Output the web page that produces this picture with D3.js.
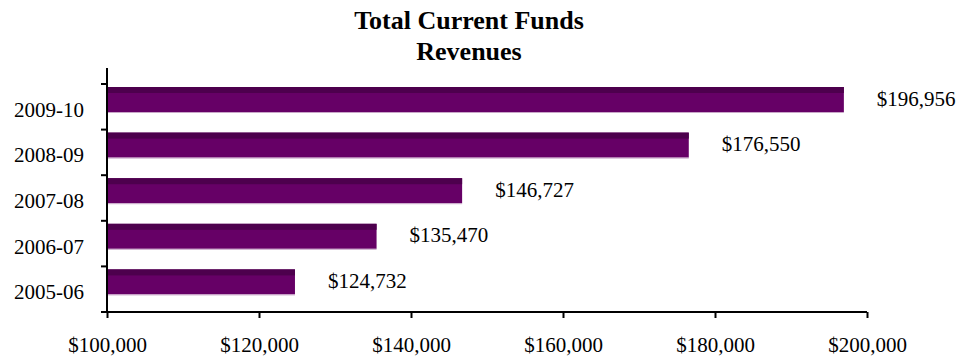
<!DOCTYPE html>
<html>
<head>
<meta charset="utf-8">
<script src="https://cdn.jsdelivr.net/npm/d3@7"></script>
<style>
  html, body { margin: 0; padding: 0; background: #fff; }
  svg { display: block; }
  text { font-family: "Liberation Serif", "Times New Roman", serif; fill: #000; }
</style>
</head>
<body>
<svg id="chart" width="965" height="358"></svg>
<script>
// Fiscal years, top to bottom
const years = ["2009-10", "2008-09", "2007-08", "2006-07", "2005-06"];
// Total current funds revenues (thousands of dollars)
const revenues = [196956, 176550, 146727, 135470, 124732];
// X axis ticks
const xTicks = [100000, 120000, 140000, 160000, 180000, 200000];

const svg = d3.select("#chart");
const plotLeft = 107, plotRight = 867, plotTop = 84, plotBottom = 312;

const x = d3.scaleLinear().domain([100000, 200000]).range([plotLeft, plotRight]);
const y = d3.scaleBand().domain(years).range([plotTop, plotBottom]);

const fmt = v => "$" + d3.format(",")(v);

// Title
const title = svg.append("text")
  .attr("x", 469).attr("text-anchor", "middle")
  .style("font-size", "26px").style("font-weight", "bold");
title.append("tspan").attr("x", 469).attr("y", 29).text("Total Current Funds");
title.append("tspan").attr("x", 469).attr("y", 60).text("Revenues");

// Bars: front face plus a darker top strip
const barOff = 3, barH = 25, stripH = 6;
const bars = svg.append("g");
bars.selectAll("rect.face").data(years).join("rect")
  .attr("class", "face")
  .attr("x", x(100000))
  .attr("y", d => y(d) + barOff)
  .attr("width", (d, i) => x(revenues[i]) - x(100000))
  .attr("height", barH)
  .attr("fill", "#660066");
bars.selectAll("rect.strip").data(years).join("rect")
  .attr("class", "strip")
  .attr("x", x(100000))
  .attr("y", d => y(d) + barOff)
  .attr("width", (d, i) => x(revenues[i]) - x(100000))
  .attr("height", stripH)
  .attr("fill", "#4d004d");
bars.selectAll("rect.edge").data(years).join("rect")
  .attr("class", "edge")
  .attr("x", x(100000))
  .attr("y", d => y(d) + barOff + barH)
  .attr("width", (d, i) => x(revenues[i]) - x(100000))
  .attr("height", 1)
  .attr("fill", "#c8a6c8");

// Value labels
svg.append("g").selectAll("text").data(years).join("text")
  .attr("x", (d, i) => x(revenues[i]) + 33)
  .attr("y", d => y(d) + barOff + barH / 2 + 6)
  .style("font-size", "21px")
  .text((d, i) => fmt(revenues[i]));

// X axis
const xAxis = svg.append("g").attr("transform", `translate(0,${plotBottom})`)
  .call(d3.axisBottom(x).tickValues(xTicks).tickSize(6).tickPadding(14).tickFormat(fmt));
xAxis.select(".domain").attr("d", `M${plotLeft},0H${plotRight}`).attr("stroke", "#000").attr("stroke-width", 2);
xAxis.selectAll(".tick line").attr("stroke", "#000").attr("stroke-width", 2);
xAxis.selectAll(".tick text")
  .style("font-size", "21px").style("font-family", "Liberation Serif, serif")
  .attr("dy", "0.95em");

// Y axis with ticks at band boundaries
const yAxisG = svg.append("g").attr("transform", `translate(${plotLeft},0)`);
yAxisG.append("line")
  .attr("x1", 0).attr("x2", 0).attr("y1", 68).attr("y2", plotBottom)
  .attr("stroke", "#000").attr("stroke-width", 2);
const bounds = years.map(d => y(d)).concat([plotBottom]);
yAxisG.selectAll("line.tk").data(bounds).join("line")
  .attr("class", "tk")
  .attr("x1", -6).attr("x2", 0)
  .attr("y1", d => d).attr("y2", d => d)
  .attr("stroke", "#000").attr("stroke-width", 2);
yAxisG.selectAll("text").data(years).join("text")
  .attr("x", -23)
  .attr("y", d => y(d) + y.bandwidth() / 2 + 10)
  .attr("text-anchor", "end")
  .style("font-size", "21px")
  .text(d => d);
</script>
</body>
</html>
